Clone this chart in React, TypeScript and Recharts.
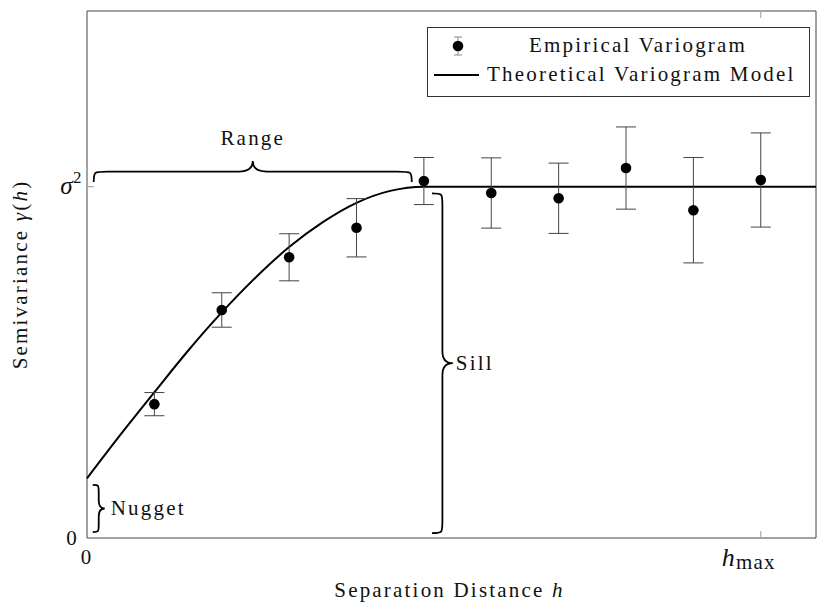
import React from 'react';
import {
  ComposedChart,
  Line,
  Scatter,
  ErrorBar,
  XAxis,
  YAxis,
  ReferenceArea,
  ReferenceLine,
  Legend,
  Label,
} from 'recharts';

const FONT = "'Liberation Serif', 'Tinos', 'Times New Roman', Times, 'DejaVu Serif', 'Noto Serif', serif";

// empirical variogram: lag, semivariance, error
const LAGS = [1, 2, 3, 4, 5, 6, 7, 8, 9, 10];
const GAMMA = [0.381, 0.649, 0.799, 0.883, 1.016, 0.982, 0.967, 1.053, 0.933, 1.019];
const ERR = [0.033, 0.049, 0.067, 0.083, 0.067, 0.1, 0.1, 0.117, 0.15, 0.134];

// theoretical model curve
const MODEL_H = [0, 0.5, 1, 1.5, 2, 2.5, 3, 3.5, 4, 4.5, 5, 10.82];
const MODEL_G = [0.17, 0.295, 0.415, 0.533, 0.642, 0.741, 0.828, 0.899, 0.954, 0.988, 1.0, 1.0];

const X_TICKS = [0, 10];
const Y_TICKS = [0, 1];
const X_MAX = 10.82;
const Y_MAX = 1.5;

const empirical = LAGS.map((h, i) => ({ h, g: GAMMA[i], e: ERR[i] }));
const model = MODEL_H.map((h, i) => ({ h, g: MODEL_G[i] }));

const textStyle = { fontFamily: FONT, fontSize: 21, letterSpacing: 2.2, fill: '#111' };

// curly brace, tip pointing up (rect top = tip)
const upBrace = (label: string) => (p: any) => {
  const { x, y, width, height } = p;
  const x0 = x;
  const x1 = x + width;
  const xm = x + width / 2;
  const yTip = y;
  const yEnd = y + height;
  const yBar = y + height / 2;
  const q = 14;
  const d = `M${x0},${yEnd} C${x0},${yBar} ${x0},${yBar} ${x0 + q},${yBar} L${xm - q},${yBar} Q${xm},${yBar} ${xm},${yTip} Q${xm},${yBar} ${xm + q},${yBar} L${x1 - q},${yBar} C${x1},${yBar} ${x1},${yBar} ${x1},${yEnd}`;
  return (
    <g>
      <path d={d} fill="none" stroke="#000" strokeWidth={1.8} />
      <text x={xm} y={yTip - 16} textAnchor="middle" style={textStyle}>
        {label}
      </text>
    </g>
  );
};

// curly brace, tip pointing right (rect right = tip)
const rightBrace = (label: string, q: number, gap: number) => (p: any) => {
  const { x, y, width, height } = p;
  const xEnd = x;
  const xTip = x + width;
  const xBar = x + width / 2;
  const y0 = y;
  const y1 = y + height;
  const ym = y + height / 2;
  const d = `M${xEnd},${y0} C${xBar},${y0} ${xBar},${y0} ${xBar},${y0 + q} L${xBar},${ym - q} Q${xBar},${ym} ${xTip},${ym} Q${xBar},${ym} ${xBar},${ym + q} L${xBar},${y1 - q} C${xBar},${y1} ${xBar},${y1} ${xEnd},${y1}`;
  return (
    <g>
      <path d={d} fill="none" stroke="#000" strokeWidth={1.8} />
      <text x={xTip + gap} y={ym + 7} style={textStyle}>
        {label}
      </text>
    </g>
  );
};

const XTick = ({ x, y, payload }: any) => {
  if (payload.value === 0) {
    return (
      <text x={x} y={y + 26} textAnchor="middle" style={textStyle}>
        0
      </text>
    );
  }
  return (
    <text x={x - 12} y={y + 28} textAnchor="middle" style={{ ...textStyle, letterSpacing: 1.2 }}>
      <tspan fontStyle="italic" fontSize={26}>h</tspan>
      <tspan fontSize={21} dy={3}>max</tspan>
    </text>
  );
};

const YTick = ({ x, y, payload }: any) => {
  if (payload.value === 0) {
    return (
      <text x={x - 8} y={y + 7} textAnchor="end" style={textStyle}>
        0
      </text>
    );
  }
  return (
    <text x={x - 5} y={y + 7} textAnchor="end" style={{ ...textStyle, letterSpacing: 0.5 }}>
      <tspan fontStyle="italic" fontSize={25}>σ</tspan>
      <tspan fontSize={17} dy={-11}>2</tspan>
    </text>
  );
};

const LegendBox = () => (
  <div
    style={{
      position: 'relative',
      width: 383,
      height: 70,
      boxSizing: 'border-box',
      border: '1px solid #333',
      background: '#fff',
      fontFamily: FONT,
      fontSize: 21,
      letterSpacing: 2.2,
      color: '#111',
      lineHeight: '24px',
    }}
  >
    <svg width={60} height={70} style={{ position: 'absolute', left: 0, top: 0 }}>
      <line x1={30} y1={9} x2={30} y2={27} stroke="#888" strokeWidth={1} />
      <line x1={26} y1={9} x2={34} y2={9} stroke="#888" strokeWidth={1} />
      <line x1={26} y1={27} x2={34} y2={27} stroke="#888" strokeWidth={1} />
      <circle cx={30} cy={18} r={5.3} fill="#000" />
      <line x1={6} y1={47} x2={51} y2={47} stroke="#000" strokeWidth={1.8} />
    </svg>
    <div style={{ position: 'absolute', left: 101, top: 5, whiteSpace: 'nowrap' }}>Empirical Variogram</div>
    <div style={{ position: 'absolute', left: 59, top: 34, whiteSpace: 'nowrap' }}>Theoretical Variogram Model</div>
  </div>
);

export default function App() {
  return (
    <div style={{ position: 'absolute', left: 0, top: 0, background: '#fff' }}>
      <ComposedChart width={817} height={607} margin={{ top: 11, right: 1, left: 0, bottom: 0 }}>
        <XAxis
          type="number"
          dataKey="h"
          domain={[0, X_MAX]}
          ticks={X_TICKS}
          axisLine={false}
          tickLine={false}
          tickSize={0}
          tickMargin={0}
          tick={<XTick />}
          height={69}
          interval={0}
        >
          <Label
            content={({ viewBox }: any) => (
              <text x={viewBox.x + viewBox.width / 2 - 2} y={viewBox.y + 59} textAnchor="middle" style={textStyle}>
                Separation Distance <tspan fontStyle="italic">h</tspan>
              </text>
            )}
          />
        </XAxis>
        <YAxis
          type="number"
          dataKey="g"
          domain={[0, Y_MAX]}
          ticks={Y_TICKS}
          axisLine={false}
          tickLine={false}
          tickSize={0}
          tickMargin={0}
          tick={<YTick />}
          width={87}
          interval={0}
        >
          <Label
            content={({ viewBox }: any) => {
              const cx = 20;
              const cy = viewBox.y + viewBox.height / 2;
              return (
                <text
                  x={cx}
                  y={cy}
                  transform={`rotate(-90 ${cx} ${cy})`}
                  textAnchor="middle"
                  dominantBaseline="central"
                  style={textStyle}
                >
                  Semivariance <tspan fontStyle="italic">γ</tspan>(<tspan fontStyle="italic">h</tspan>)
                </text>
              );
            }}
          />
        </YAxis>

        <ReferenceArea x1={0} x2={X_MAX} y1={0} y2={Y_MAX} fill="none" stroke="#444" strokeWidth={1} fillOpacity={0} />
        {X_TICKS.filter((t) => t !== 0).map((t) => (
          <ReferenceLine key={`xb${t}`} segment={[{ x: t, y: 0 }, { x: t, y: 0.02 }]} stroke="#aaa" strokeWidth={1.2} />
        ))}
        {X_TICKS.filter((t) => t !== 0).map((t) => (
          <ReferenceLine key={`xt${t}`} segment={[{ x: t, y: Y_MAX - 0.02 }, { x: t, y: Y_MAX }]} stroke="#aaa" strokeWidth={1.2} />
        ))}
        {Y_TICKS.filter((t) => t !== 0).map((t) => (
          <ReferenceLine key={`yl${t}`} segment={[{ x: 0, y: t }, { x: 0.1, y: t }]} stroke="#aaa" strokeWidth={1.2} />
        ))}

        <ReferenceArea x1={0.1} x2={4.82} y1={1.013} y2={1.073} shape={upBrace('Range')} />
        <ReferenceArea x1={5.12} x2={5.43} y1={0.014} y2={0.981} shape={rightBrace('Sill', 12, 3)} />
        <ReferenceArea x1={0.085} x2={0.263} y1={0.017} y2={0.151} shape={rightBrace('Nugget', 8, 6)} />

        <Line
          data={model}
          dataKey="g"
          type="monotone"
          stroke="#000"
          strokeWidth={2}
          dot={false}
          isAnimationActive={false}
          legendType="none"
        />
        <Scatter
          data={empirical}
          dataKey="g"
          isAnimationActive={false}
          shape={(p: any) => <circle cx={p.cx} cy={p.cy} r={5.3} fill="#000" />}
        >
          <ErrorBar dataKey="e" direction="y" width={10} stroke="#444" strokeWidth={1} isAnimationActive={false} />
        </Scatter>

        <Legend
          layout="horizontal"
          verticalAlign="middle"
          align="center"
          wrapperStyle={{ left: 427, top: 27, width: 383, height: 70 }}
          content={() => <LegendBox />}
        />
      </ComposedChart>
    </div>
  );
}
